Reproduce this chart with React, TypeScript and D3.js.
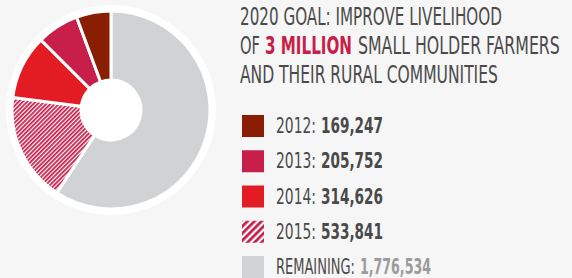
import { useLayoutEffect, useRef } from "react";
import { pie, arc } from "d3";

const titleLines = [
  [{ t: "2020 GOAL: IMPROVE LIVELIHOOD" }],
  [{ t: "OF" }, { t: "3 MILLION", hi: true }, { t: "SMALL HOLDER FARMERS" }],
  [{ t: "AND THEIR RURAL COMMUNITIES" }],
];
// x start / end of each title segment
const titleSpans = [
  [[240, 502]],
  [[240, 260], [265, 352], [358, 560]],
  [[240, 498]],
];

const labels = ["2012", "2013", "2014", "2015", "REMAINING"];
const values = [169247, 205752, 314626, 533841, 1776534];
const colors = ["#8a1e03", "#c71f4a", "#e31c24", "url(#hatch)", "#d1d2d4"];
const legendColors = ["#8a1e03", "#c71f4a", "#e31c24", "url(#hatchBig)", "#d1d2d4"];

const font = "'DejaVu Sans Condensed', 'DejaVu Sans', sans-serif";

// text squeezed horizontally so it spans x0..x1 (condensed DIN look)
function FitText({ x0, x1, y, children, ...rest }: any) {
  const ref = useRef<SVGTextElement>(null);
  useLayoutEffect(() => {
    const el = ref.current;
    if (!el) return;
    const w = el.getComputedTextLength();
    const sx = w > 0 ? (x1 - x0) / w : 1;
    el.setAttribute("transform", `translate(${x0},${y}) scale(${sx},1)`);
  });
  return (
    <text ref={ref} x={0} y={0} transform={`translate(${x0},${y})`} fontFamily={font} {...rest}>
      {children}
    </text>
  );
}

export default function App() {
  // pie goes clockwise from top: remaining first, then 2015 .. 2012
  const order = [4, 3, 2, 1, 0];
  const slices = pie<number>()
    .sort(null)
    .value((i) => values[i])(order);
  const arcGen = arc<any>().innerRadius(30).outerRadius(99);
  const cx = 111;
  const cy = 110;

  return (
    <svg
      width={572}
      height={278}
      style={{ position: "fixed", left: 0, top: 0, background: "#f6f6f6" }}
    >
      <defs>
        <pattern id="hatch" width={3} height={3} patternUnits="userSpaceOnUse" patternTransform="rotate(45)">
          <rect width={3} height={3} fill="#fff" />
          <rect width={1.8} height={3} fill="#c71f4a" />
        </pattern>
        <pattern id="hatchBig" width={5} height={5} patternUnits="userSpaceOnUse" patternTransform="rotate(45)">
          <rect width={5} height={5} fill="#fff" />
          <rect width={2.8} height={5} fill="#c71f4a" />
        </pattern>
      </defs>

      {/* Donut */}
      <g transform={`translate(${cx},${cy})`}>
        <circle r={105} fill="#fff" />
        {slices.map((s, i) => (
          <path
            key={i}
            d={arcGen(s) as string}
            fill={colors[s.data]}
            stroke="#fff"
            strokeWidth={3}
          />
        ))}
      </g>

      {/* Title */}
      {titleLines.map((line, i) =>
        line.map((p, j) => {
          const [x0, x1] = titleSpans[i][j];
          return (
            <FitText
              key={`${i}-${j}`}
              x0={x0}
              x1={x1}
              y={25 + i * 29}
              fontSize={25}
              fontWeight={p.hi ? "bold" : 300}
              fill={p.hi ? "#c71f4a" : "#4a4a4a"}
            >
              {p.t}
            </FitText>
          );
        })
      )}

      {/* Legend */}
      {labels.map((l, i) => {
        const y = 115 + i * 35.25;
        const rem = i === 4;
        const valX = rem ? 360 : 321;
        const valEnd = rem ? 431 : 383;
        return (
          <g key={l}>
            <rect x={242} y={y} width={22} height={22} fill={legendColors[i]} />
            <FitText x0={276} x1={rem ? 355 : 316} y={y + 18} fontSize={22} fill="#4a4a4a">
              {l}:
            </FitText>
            <FitText
              x0={valX}
              x1={valEnd}
              y={y + 18}
              fontSize={22}
              fontWeight="bold"
              fill={rem ? "#9b9b9b" : "#4a4a4a"}
            >
              {values[i].toLocaleString("en-US")}
            </FitText>
          </g>
        );
      })}
    </svg>
  );
}
